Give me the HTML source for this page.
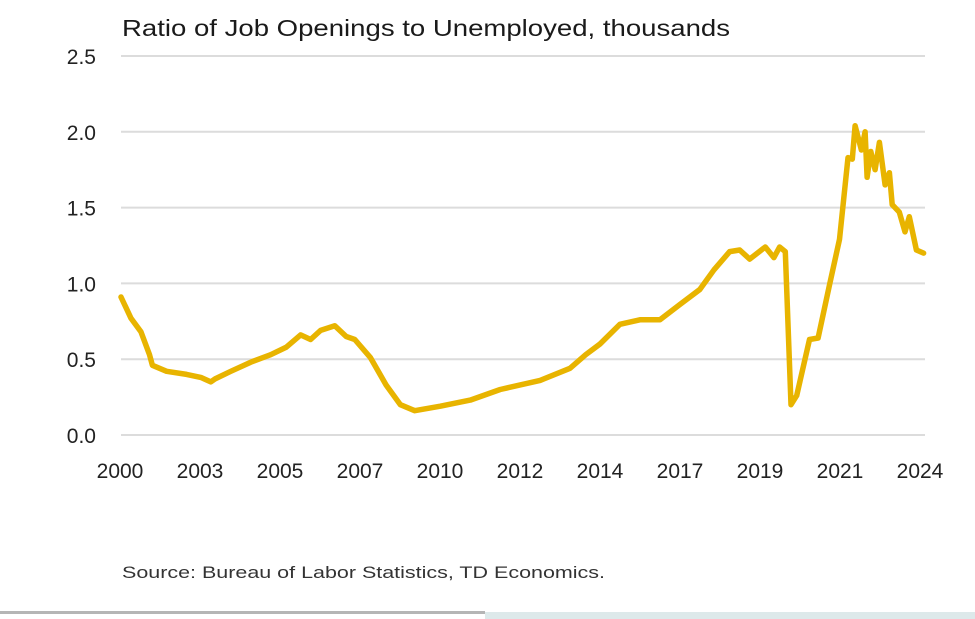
<!DOCTYPE html>
<html><head><meta charset="utf-8"><style>
html,body{margin:0;padding:0;background:#fff;}
body{width:975px;height:619px;position:relative;overflow:hidden;font-family:"Liberation Sans",sans-serif;}
svg{position:absolute;left:0;top:0;}
</style></head><body>
<svg id="chart" width="975" height="619" viewBox="0 0 975 619">
<text x="122" y="36" font-size="23" fill="#1a1a1a" textLength="608" lengthAdjust="spacingAndGlyphs">Ratio of Job Openings to Unemployed, thousands</text>
<g id="grid"></g>
<g id="ylab"></g>
<g id="xlab"></g>
<path id="line" fill="none" stroke="#e8b400" stroke-width="5.5" stroke-linejoin="round" stroke-linecap="round"></path>
<text x="122" y="578" font-size="17" fill="#333" textLength="483" lengthAdjust="spacingAndGlyphs">Source: Bureau of Labor Statistics, TD Economics.</text>
<rect x="0" y="611" width="485" height="3" fill="#b5b5b5"/>
<rect x="485" y="612" width="490" height="7" fill="#dde9ea"/>
</svg>
<script>
const yTicks=[0,0.5,1.0,1.5,2.0,2.5];
const xLabels=["2000","2003","2005","2007","2010","2012","2014","2017","2019","2021","2024"];
const months=[0,3.5,7,10,11,16,23,28,31.5,33,38.5,45.5,52.5,58,63,66.5,70,75,79,82,87.5,93,98,103,112,122.5,133,147,157.5,163,168,175,182,189,196,203,208,213.5,217,220.5,226,229,231,233,235,237,241.5,244.5,248.5,252,255,256.5,257.5,259.7,261,261.7,263,264.5,266,268,269.5,270.5,273,275,276.5,279,281.5];
const values=[0.91,0.77,0.68,0.53,0.46,0.42,0.40,0.38,0.35,0.37,0.42,0.48,0.53,0.58,0.66,0.63,0.69,0.72,0.65,0.63,0.51,0.33,0.20,0.16,0.19,0.23,0.30,0.36,0.44,0.53,0.60,0.73,0.76,0.76,0.86,0.96,1.09,1.21,1.22,1.16,1.24,1.17,1.24,1.21,0.20,0.26,0.63,0.64,0.99,1.29,1.83,1.82,2.04,1.88,2.0,1.70,1.87,1.75,1.93,1.65,1.73,1.52,1.47,1.34,1.44,1.22,1.20];
const X0=121,X1=925,Y0=435,Y1=56,MMAX=282,VMAX=2.5;
const xs=m=>X0+(m/MMAX)*(X1-X0);
const ys=v=>Y0-(v/VMAX)*(Y0-Y1);
const NS="http://www.w3.org/2000/svg";
const grid=document.getElementById('grid'),yl=document.getElementById('ylab'),xl=document.getElementById('xlab');
yTicks.forEach(t=>{
 const l=document.createElementNS(NS,'line');
 
 
 l.setAttribute('x1',X0);l.setAttribute('x2',X1);l.setAttribute('y1',ys(t));l.setAttribute('y2',ys(t));
 l.setAttribute('stroke','#dcdcdc');l.setAttribute('stroke-width','2');grid.appendChild(l);
 const tx=document.createElementNS(NS,'text');
 
 
 tx.setAttribute('x',96);tx.setAttribute('y',ys(t)+8);tx.setAttribute('text-anchor','end');
 tx.setAttribute('font-size','21');tx.setAttribute('fill','#222');tx.textContent=t.toFixed(1);yl.appendChild(tx);
});
xLabels.forEach((s,i)=>{
 const tx=document.createElementNS(NS,'text');
 
 
 tx.setAttribute('x',120+i*80);tx.setAttribute('y',478);tx.setAttribute('text-anchor','middle');
 tx.setAttribute('font-size','21');tx.setAttribute('fill','#222');tx.textContent=s;xl.appendChild(tx);
});
document.getElementById('line').setAttribute('d',months.map((m,i)=>(i?'L':'M')+xs(m).toFixed(1)+' '+ys(values[i]).toFixed(1)).join(' '));
</script>
</body></html>
